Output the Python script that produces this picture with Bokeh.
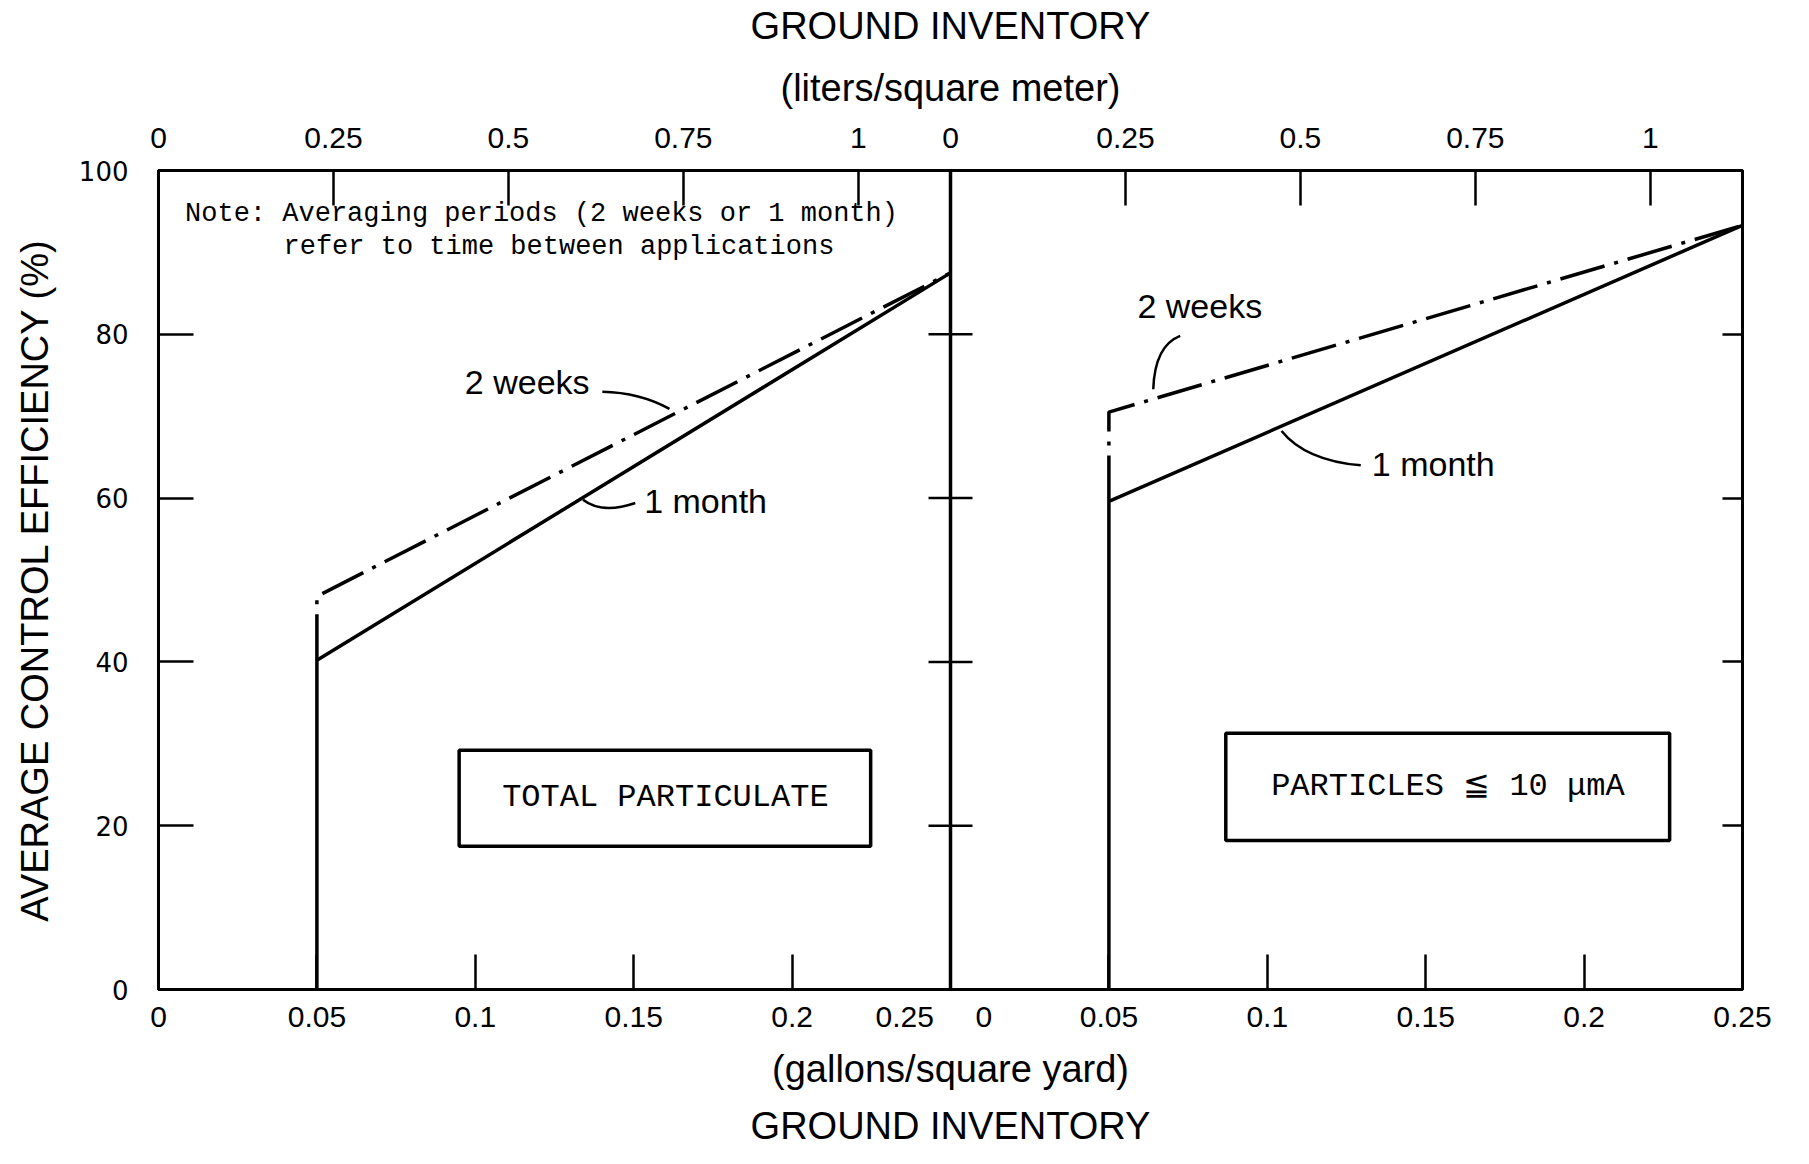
from bokeh.plotting import figure
from bokeh.models import Range1d, LinearAxis, FixedTicker, Span, Title
from bokeh.embed import file_html
from bokeh.resources import INLINE
from bokeh.core.properties import value

# ---------------- data ----------------
PANEL_GAL = 0.25                 # each panel spans 0 .. 0.25 gal/yd2
GAL_PER_LITER = 0.2209           # 1 L/m2 = 0.2209 gal/yd2

GAL_TICKS = [0, 0.05, 0.1, 0.15, 0.2, 0.25]
GAL_LABELS = ["0", "0.05", "0.1", "0.15", "0.2", "0.25"]
LIT_TICKS = [0, 0.25, 0.5, 0.75, 1.0]
LIT_LABELS = ["0", "0.25", "0.5", "0.75", "1"]
Y_TICKS = [0, 20, 40, 60, 80, 100]

# Total particulate (left panel)
TP_X_1MONTH = [0.05, 0.05, 0.25]
TP_Y_1MONTH = [0, 40.2, 87.5]
TP_X_2WEEKS = [0.05, 0.05, 0.25]
TP_Y_2WEEKS = [40.2, 48.0, 87.5]
# Particles <= 10 um (right panel)
PM_X_1MONTH = [0.05, 0.05, 0.25]
PM_Y_1MONTH = [0, 59.6, 93.3]
PM_X_2WEEKS = [0.05, 0.05, 0.25]
PM_Y_2WEEKS = [59.6, 70.5, 93.3]

SERIES_NAMES = ["2 weeks", "1 month"]
PANEL_NAMES = ["TOTAL PARTICULATE", "PARTICLES \u2266 10 \u03bcmA"]
NOTE_LINES = ["Note: Averaging periods (2 weeks or 1 month)",
              "refer to time between applications"]

# ---------------- figure ----------------
p = figure(width=1792, height=1156, output_backend="svg", toolbar_location=None,
           title=None,
           x_range=Range1d(0, 2 * PANEL_GAL), y_range=Range1d(0, 100),
           min_border_left=158, min_border_right=50,
           min_border_top=170, min_border_bottom=164)
p.extra_x_ranges = {
    "pm": Range1d(-PANEL_GAL, PANEL_GAL),
    "lit": Range1d(0, 2 * PANEL_GAL / GAL_PER_LITER),
}
p.grid.visible = False
p.background_fill_color = "white"
p.border_fill_color = "white"
p.outline_line_color = "black"
p.outline_line_width = 3

SANS = "Liberation Sans"
MONO = "Liberation Mono"
INK = "black"

# bottom axis (gallons / square yard)
xb = p.xaxis[0]
b_ticks = GAL_TICKS[:-1] + [PANEL_GAL] + [PANEL_GAL + t for t in GAL_TICKS[1:]]
b_labels = (GAL_LABELS[:-1]
            + [GAL_LABELS[-1] + "\u00a0" * 5 + GAL_LABELS[0] + "\u00a0" * 4]
            + GAL_LABELS[1:])
xb.ticker = FixedTicker(ticks=b_ticks)
xb.major_label_overrides = {t: l for t, l in zip(b_ticks, b_labels)}
xb.major_tick_in = 35
xb.major_tick_out = 0
xb.minor_tick_line_color = None
xb.major_tick_line_width = 2.5
xb.axis_line_width = 3
xb.major_label_text_font = SANS
xb.major_label_text_font_size = "30px"
xb.major_label_text_color = INK
xb.major_label_standoff = 10
xb.axis_label = "(gallons/square yard)"
xb.axis_label_text_font = SANS
xb.axis_label_text_font_size = "38px"
xb.axis_label_text_font_style = "normal"
xb.axis_label_text_color = INK
xb.axis_label_standoff = 12

# left axis
yl = p.yaxis[0]
yl.ticker = FixedTicker(ticks=Y_TICKS)
yl.major_tick_in = 35
yl.major_tick_out = 0
yl.minor_tick_line_color = None
yl.major_tick_line_width = 2.5
yl.axis_line_width = 3
yl.major_label_text_font = "DejaVu Sans"
yl.major_label_text_font_size = "26px"
yl.major_label_text_color = INK
yl.major_label_standoff = 30
yl.axis_label = "AVERAGE CONTROL EFFICIENCY (%)"
yl.axis_label_text_font = SANS
yl.axis_label_text_font_size = "38px"
yl.axis_label_text_font_style = "normal"
yl.axis_label_text_color = INK
yl.axis_label_standoff = 20

# right axis: inward ticks only, no labels
yr = LinearAxis(ticker=FixedTicker(ticks=Y_TICKS[1:-1]), major_tick_in=20, major_tick_out=0,
                minor_tick_line_color=None, major_tick_line_width=2.5, axis_line_width=3,
                major_label_text_color=None, major_label_standoff=0)
p.add_layout(yr, "right")

# top axis (liters / square meter)
L0 = PANEL_GAL / GAL_PER_LITER
t_ticks = LIT_TICKS + [L0 + t for t in LIT_TICKS]
t_labels = LIT_LABELS + LIT_LABELS
xt = LinearAxis(x_range_name="lit", ticker=FixedTicker(ticks=t_ticks),
                major_label_overrides={t: l for t, l in zip(t_ticks, t_labels)},
                major_tick_in=35, major_tick_out=0, minor_tick_line_color=None,
                major_tick_line_width=2.5, axis_line_width=3,
                major_label_text_font=SANS, major_label_text_font_size="30px",
                major_label_text_color=INK, major_label_standoff=23)
p.add_layout(xt, "above")
p.add_layout(Title(text="(liters/square meter)", align="center", text_font=SANS,
                   text_color=INK, text_font_size="38px", text_font_style="normal",
                   standoff=32), "above")
p.add_layout(Title(text="GROUND INVENTORY", align="center", text_font=SANS,
                   text_color=INK, text_font_size="38px", text_font_style="normal",
                   standoff=3), "above")
p.add_layout(Title(text="GROUND INVENTORY", align="center", text_font=SANS,
                   text_color=INK, text_font_size="38px", text_font_style="normal",
                   standoff=20), "below")

# divider between panels with crossing ticks
p.add_layout(Span(location=PANEL_GAL, dimension="height", line_color=INK, line_width=3.5))
p.scatter(x=[PANEL_GAL] * len(Y_TICKS[1:-1]), y=Y_TICKS[1:-1], marker="dash", size=44,
          line_color=INK, line_width=2.5)

DASHDOT = "46 10 4 10"
LW = 3.5
# left panel curves
p.line(TP_X_1MONTH, TP_Y_1MONTH, line_color=INK, line_width=LW)
p.line(TP_X_2WEEKS, TP_Y_2WEEKS, line_color=INK, line_width=LW, line_dash=DASHDOT)
# right panel curves
p.line(PM_X_1MONTH, PM_Y_1MONTH, line_color=INK, line_width=LW, x_range_name="pm")
p.line(PM_X_2WEEKS, PM_Y_2WEEKS, line_color=INK, line_width=LW, line_dash=DASHDOT,
       x_range_name="pm")

# series annotations with leader curves
LBL_FONT = value(SANS)
LBL_SIZE = "34px"
p.text(x=[0.0967], y=[74.2], text=[SERIES_NAMES[0]], text_font=LBL_FONT, text_color=INK,
       text_font_size=LBL_SIZE, text_align="left", text_baseline="middle")
p.quadratic(x0=[0.1401], y0=[73.0], x1=[0.1613], y1=[70.9], cx=[0.1520], cy=[72.9],
            line_color=INK, line_width=2.5)
p.text(x=[0.1533], y=[59.6], text=[SERIES_NAMES[1]], text_font=LBL_FONT, text_color=INK,
       text_font_size=LBL_SIZE, text_align="left", text_baseline="middle")
p.quadratic(x0=[0.1505], y0=[59.4], x1=[0.1340], y1=[59.8], cx=[0.1400], cy=[58.0],
            line_color=INK, line_width=2.5)

p.text(x=[0.0590], y=[83.5], text=[SERIES_NAMES[0]], text_font=LBL_FONT, text_color=INK,
       text_font_size=LBL_SIZE, text_align="left", text_baseline="middle", x_range_name="pm")
p.quadratic(x0=[0.0725], y0=[79.8], x1=[0.0640], y1=[73.3], cx=[0.0645], cy=[78.6],
            line_color=INK, line_width=2.5, x_range_name="pm")
p.text(x=[0.1330], y=[64.2], text=[SERIES_NAMES[1]], text_font=LBL_FONT, text_color=INK,
       text_font_size=LBL_SIZE, text_align="left", text_baseline="middle", x_range_name="pm")
p.quadratic(x0=[0.1295], y0=[64.0], x1=[0.1045], y1=[68.2], cx=[0.1120], cy=[64.6],
            line_color=INK, line_width=2.5, x_range_name="pm")

# note
p.text(x=[0.1209, 0.1264], y=[94.7, 90.7], text=NOTE_LINES, text_font=value(MONO),
       text_color=INK, text_font_size="27px", text_align="center", text_baseline="middle")

# panel boxes
p.quad(left=[0.0949], right=[0.2248], bottom=[17.5], top=[29.2], fill_color=None,
       line_color=INK, line_width=3.5)
p.text(x=[0.1600], y=[23.4], text=[PANEL_NAMES[0]], text_font=value(MONO), text_color=INK,
       text_font_size="32px", text_align="center", text_baseline="middle")
p.quad(left=[0.0869], right=[0.2270], bottom=[18.2], top=[31.3], fill_color=None,
       line_color=INK, line_width=3.5, x_range_name="pm")
p.text(x=[0.1570], y=[24.8], text=[PANEL_NAMES[1]], text_font=value(MONO), text_color=INK,
       text_font_size="32px", text_align="center", text_baseline="middle", x_range_name="pm")

open("out.html", "w").write(file_html(p, INLINE))
